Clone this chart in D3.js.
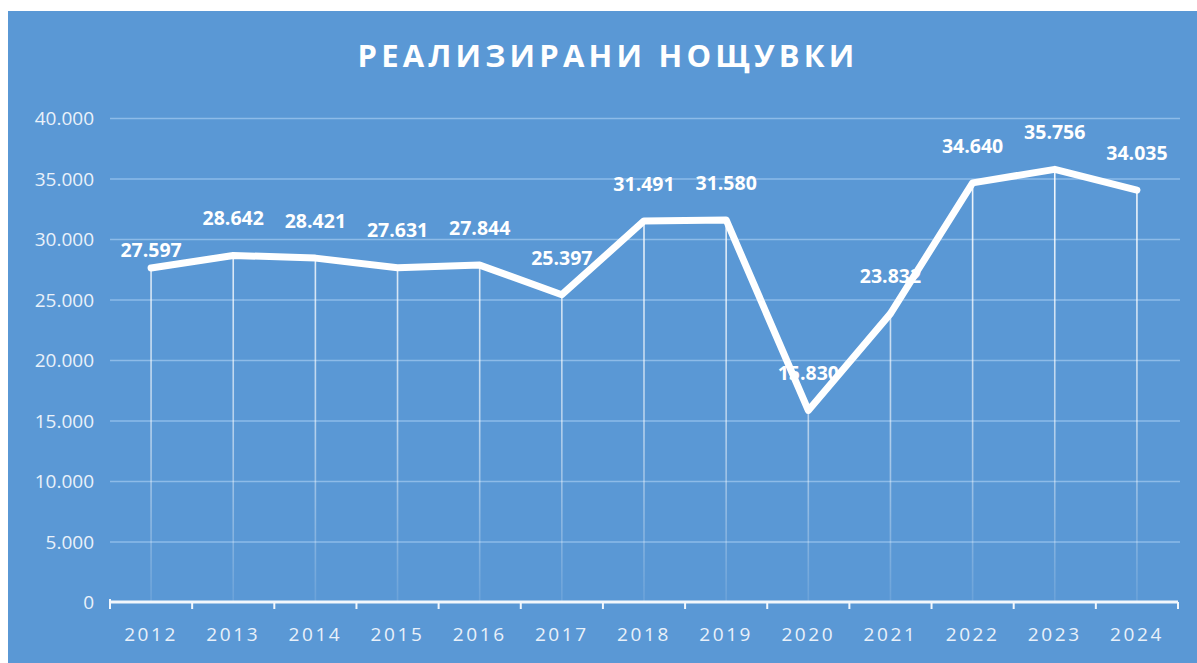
<!DOCTYPE html>
<html>
<head>
<meta charset="utf-8">
<script src="https://cdn.jsdelivr.net/npm/d3@7"></script>
<style>
  html, body { margin: 0; padding: 0; background: #fff; }
  svg { display: block; }
</style>
</head>
<body>
<svg id="chart"></svg>
<script>
// data
const years = ["2012", "2013", "2014", "2015", "2016", "2017", "2018", "2019", "2020", "2021", "2022", "2023", "2024"];
const nights = [27597, 28642, 28421, 27631, 27844, 25397, 31491, 31580, 15830, 23832, 34640, 35756, 34035];
const yTicks = [0, 5000, 10000, 15000, 20000, 25000, 30000, 35000, 40000];
const title = "РЕАЛИЗИРАНИ НОЩУВКИ";

const W = 1197, H = 663;
const bg = "#5a98d5";
const fmt = v => v === 0 ? "0" : d3.format(",")(v).replace(/,/g, ".");

const svg = d3.select("#chart").attr("width", W).attr("height", H);

// background panel (white margin top/left like the screenshot)
svg.append("rect").attr("x", 8).attr("y", 11).attr("width", W - 8).attr("height", H - 11).attr("fill", bg);

const xScale = d3.scaleBand().domain(years).range([110, 1178]);
const yScale = d3.scaleLinear().domain([0, 40000]).range([602, 118]);

// fade for drop lines
const grad = svg.append("defs").append("linearGradient")
    .attr("id", "dropFade").attr("gradientUnits", "userSpaceOnUse")
    .attr("x1", 0).attr("y1", 160).attr("x2", 0).attr("y2", 602);
grad.append("stop").attr("offset", "0%").attr("stop-color", "#fff").attr("stop-opacity", 0.95);
grad.append("stop").attr("offset", "60%").attr("stop-color", "#fff").attr("stop-opacity", 0.55);
grad.append("stop").attr("offset", "100%").attr("stop-color", "#fff").attr("stop-opacity", 0.1);

// title
svg.append("text")
    .attr("x", 608).attr("y", 67)
    .attr("text-anchor", "middle")
    .attr("font-family", "'Open Sans', sans-serif")
    .attr("font-weight", "bold")
    .attr("font-size", 31)
    .attr("letter-spacing", 4.2)
    .attr("fill", "#fff")
    .text(title);

// y axis with gridlines
const yAxis = d3.axisLeft(yScale)
    .tickValues(yTicks)
    .tickSize(-(1180 - 110))
    .tickPadding(16)
    .tickFormat(fmt);

const gy = svg.append("g")
    .attr("class", "yAxis")
    .attr("transform", `translate(${110}, 0)`)
    .call(yAxis);
gy.select(".domain").remove();
gy.selectAll("line")
    .attr("stroke", "#8dbbe8")
    .attr("stroke-width", 1.5)
    .attr("opacity", d => d === 0 ? 0 : 1);
gy.selectAll("text")
    .attr("font-family", "'Open Sans', sans-serif")
    .attr("font-size", 19)
    .attr("fill", "#e9f1fa")
    .attr("dy", "0.35em");

// drop lines from points to axis
svg.append("g").selectAll("line")
    .data(nights)
    .enter()
        .append("line")
        .attr("x1", (d, i) => xScale(years[i]) + xScale.bandwidth() / 2)
        .attr("x2", (d, i) => xScale(years[i]) + xScale.bandwidth() / 2)
        .attr("y1", d => yScale(d))
        .attr("y2", yScale(0))
        .attr("stroke", "url(#dropFade)")
        .attr("stroke-width", 1.6);

// x axis: ticks between categories
const xAxisG = svg.append("g").attr("class", "xAxis");
const bounds = d3.range(years.length + 1).map(i => xScale.range()[0] + i * xScale.step());
xAxisG.append("line")
    .attr("x1", bounds[0]).attr("x2", bounds[bounds.length - 1])
    .attr("y1", yScale(0)).attr("y2", yScale(0))
    .attr("stroke", "#f2f7fc").attr("stroke-width", 3);
xAxisG.selectAll("line.tick")
    .data(bounds)
    .enter()
        .append("line")
        .attr("class", "tick")
        .attr("x1", d => d).attr("x2", d => d)
        .attr("y1", (d, i) => i === 0 ? yScale(0) - 3 : yScale(0))
        .attr("y2", yScale(0) + 7)
        .attr("stroke", "#f2f7fc").attr("stroke-width", 2);
xAxisG.selectAll("text")
    .data(years)
    .enter()
        .append("text")
        .attr("x", d => xScale(d) + xScale.bandwidth() / 2)
        .attr("y", 641)
        .attr("text-anchor", "middle")
        .attr("font-family", "'Open Sans', sans-serif")
        .attr("font-size", 19)
        .attr("letter-spacing", 2.6)
        .attr("fill", "#e9f1fa")
        .text(d => d);

// the line
const line = d3.line()
    .x((d, i) => xScale(years[i]) + xScale.bandwidth() / 2)
    .y(d => yScale(d));

svg.append("path")
    .datum(nights)
    .attr("d", line)
    .attr("fill", "none")
    .attr("stroke", "#fff")
    .attr("stroke-width", 7)
    .attr("stroke-linejoin", "round")
    .attr("stroke-linecap", "round");

// data labels
svg.append("g").selectAll("text")
    .data(nights)
    .enter()
        .append("text")
        .attr("x", (d, i) => xScale(years[i]) + xScale.bandwidth() / 2)
        .attr("y", (d, i) => yScale(d) - (i === 0 ? 18 : 37))
        .attr("dy", "0.35em")
        .attr("text-anchor", "middle")
        .attr("font-family", "'Open Sans', sans-serif")
        .attr("font-weight", "bold")
        .attr("font-size", 19.5)
        .attr("fill", "#fff")
        .text(d => fmt(d));
</script>
</body>
</html>
